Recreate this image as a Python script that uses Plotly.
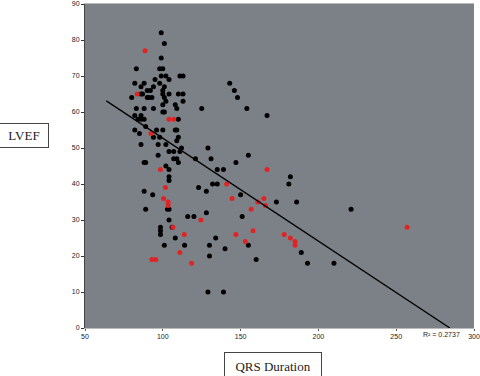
import plotly.graph_objects as go
import numpy as np

# Black (main group) points: QRS duration, LVEF
black_x = [99, 101, 99, 83, 98, 100, 102, 99, 111, 113, 82, 88, 95, 104, 98, 86, 94, 101,
           90, 92, 100, 86, 87, 100, 104, 110, 113, 80, 90, 91, 93, 101, 102, 113, 100, 108,
           109, 83, 88, 94, 125, 100, 101, 82, 86, 84, 86, 88, 110, 89, 82, 96, 100, 108,
           109, 85, 94, 98, 110, 109, 86, 97, 102, 112, 129, 97, 155, 104, 107, 111, 88, 89,
           110, 107, 109, 121, 131, 147, 102, 104, 135, 139, 104, 104, 143, 146, 148, 154, 167,
           123, 128, 150, 151, 128, 116, 120, 103, 104, 104, 106, 134, 108, 101, 114, 130, 140,
           155, 130, 160, 129, 139, 132, 135, 88, 93.5, 89, 98.5, 98.5, 98.5, 182, 181, 173,
           186, 221, 189, 193, 210]
black_y = [82, 79, 75, 72, 72, 72, 70, 70, 70, 70, 68, 68, 69, 69, 68, 67, 67, 67,
           66, 66, 66, 65, 65, 65, 65, 65, 65, 64, 64, 64, 64, 64, 63, 63, 62, 62,
           61, 61, 61, 61, 61, 60, 60, 59, 59, 58, 58, 58, 58, 56, 55, 55, 55, 55,
           55, 54, 53, 53, 53, 52, 51, 51, 51, 50, 50, 48, 48, 49, 49, 49, 46, 46,
           46, 47, 47, 47, 47, 46, 45, 44, 44, 44, 42, 41, 68, 66, 64, 61, 59,
           39, 38, 37, 31, 32, 31, 31, 33, 33, 30, 28, 25, 25, 23, 23, 23, 22,
           23, 20, 19, 10, 10, 40, 40, 38, 37, 33, 28, 27, 26, 42, 40, 35,
           35, 33, 21, 18, 18]

# Red (highlighted group) points
red_x = [88.6, 83.5, 104, 107, 92.4, 98.5, 101.7, 100.5, 103.4, 103.4, 106.5, 113.8, 111,
         93, 95.5, 118.5, 124.5, 141, 144.5, 147, 153, 156.8, 158, 161, 165, 166, 167,
         178, 182, 185, 185, 257]
red_y = [77, 65, 58, 58, 54, 44, 39, 36, 35, 34, 28, 26, 21,
         19, 19, 18, 30, 40, 36, 26, 24, 33, 27, 35, 36, 34, 44,
         26, 25, 24, 23, 28]

# Linear trendline
trend_slope = -0.2858
trend_intercept = 81.3
trend_x = [63.7, 284.5]
trend_y = [trend_intercept + trend_slope * v for v in trend_x]
r_squared = "R² = 0.2737"

x_ticks = [50, 100, 150, 200, 250, 300]
y_ticks = [0, 10, 20, 30, 40, 50, 60, 70, 80, 90]

tick_font = dict(family="Liberation Sans, Arial", size=7, color="#222")
label_font = dict(family="Liberation Serif, Times New Roman", size=13, color="#222")

fig = go.Figure()
fig.add_trace(go.Scatter(x=black_x, y=black_y, mode="markers",
                         marker=dict(color="black", size=5), showlegend=False))
fig.add_trace(go.Scatter(x=red_x, y=red_y, mode="markers",
                         marker=dict(color="#e02424", size=5), showlegend=False))
fig.add_trace(go.Scatter(x=trend_x, y=trend_y, mode="lines",
                         line=dict(color="black", width=1.3), showlegend=False))

fig.update_layout(
    width=480, height=376,
    margin=dict(l=85, r=6, t=4, b=48),
    paper_bgcolor="white",
    plot_bgcolor="rgb(124,129,136)",
    font=tick_font,
    xaxis=dict(range=[50, 300], tickvals=x_ticks, showgrid=False, zeroline=False,
               ticks="outside", ticklen=2, tickcolor="#555", showline=True,
               linecolor="#bbb", linewidth=1, mirror=True, tickfont=tick_font,
               automargin=False, ticklabeloverflow="allow"),
    yaxis=dict(range=[0, 90], tickvals=y_ticks, showgrid=False, zeroline=False,
               ticks="outside", ticklen=3, tickcolor="#333", showline=True,
               linecolor="#444", linewidth=1, tickfont=tick_font,
               automargin=False, ticklabeloverflow="allow"),
    annotations=[
        dict(text="LVEF", xref="paper", yref="paper", x=-0.157, y=0.594,
             xanchor="center", yanchor="middle", showarrow=False,
             width=42, height=17,
             font=label_font, bordercolor="#444", borderwidth=1, borderpad=3,
             bgcolor="white"),
        dict(text="QRS Duration", xref="paper", yref="paper", x=0.483, y=-0.117,
             xanchor="center", yanchor="middle", showarrow=False,
             width=90, height=20,
             font=label_font, bordercolor="#444", borderwidth=1, borderpad=3,
             bgcolor="white"),
        dict(text=r_squared, xref="x", yref="paper", x=279, y=-0.002,
             xanchor="center", yanchor="top", showarrow=False, font=tick_font),
    ],
)

fig.write_html("out.html", config={"displayModeBar": False},
               post_script="document.body.style.margin='0px';")
